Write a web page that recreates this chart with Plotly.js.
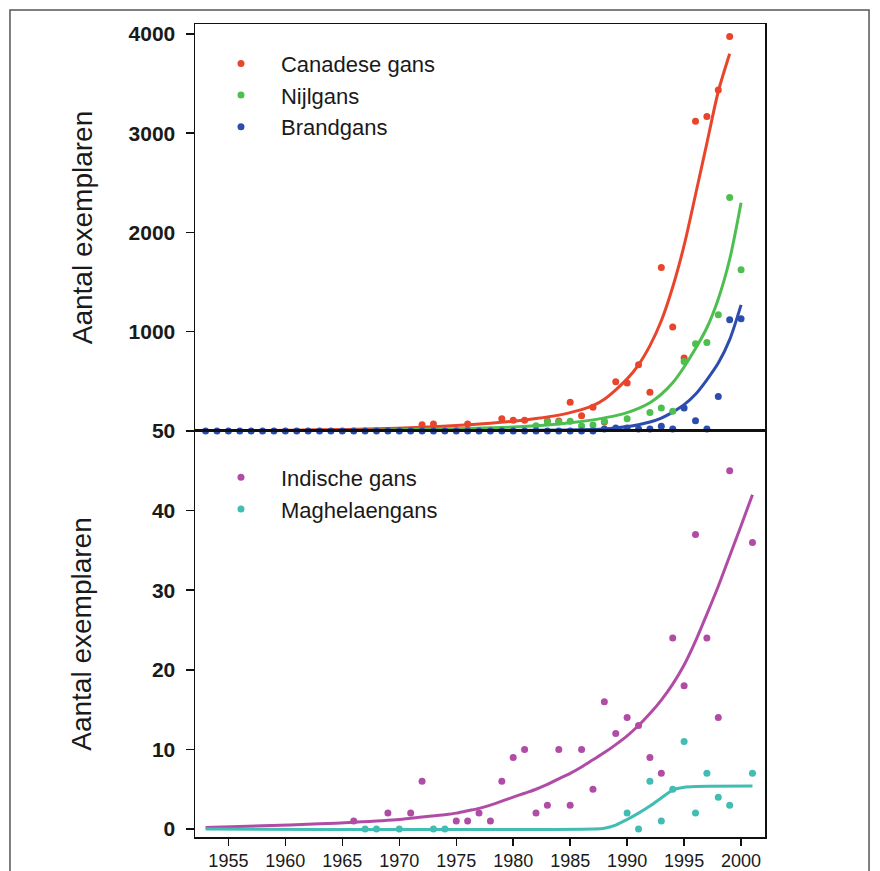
<!DOCTYPE html>
<html><head><meta charset="utf-8">
<script src="https://cdn.plot.ly/plotly-3.0.1.min.js"></script>
<style>html,body{margin:0;padding:0;background:#fff}#chart{width:880px;height:871px}</style>
</head><body><div id="chart"></div>
<script>
// ---------- Top panel: observed counts ----------
const canadeseYears  = [1972,1973,1976,1979,1980,1981,1983,1984,1985,1986,1987,1988,1989,1990,1991,1992,1993,1994,1995,1996,1997,1998,1999];
const canadeseCounts = [63,70,70,124,109,109,100,100,290,154,238,90,496,483,667,389,1647,1047,735,3121,3167,3436,3973];

const nijlYears  = [1982,1983,1984,1985,1986,1987,1988,1990,1992,1993,1994,1995,1996,1997,1998,1999,2000];
const nijlCounts = [53,90,90,97,50,60,97,124,187,231,200,700,879,892,1171,2352,1624];

const brandYears  = [1953,1954,1955,1956,1957,1958,1959,1960,1961,1962,1963,1964,1965,1966,1967,1968,1969,1970,1971,1972,1973,1974,1975,1976,1977,1978,1979,1980,1981,1982,1983,1984,1985,1986,1987,1988,1989,1990,1991,1992,1993,1994,1995,1996,1997,1998,1999,2000];
const brandCounts = [0,0,0,0,0,0,0,0,0,0,0,0,0,0,0,0,0,0,0,0,0,0,0,0,0,0,0,0,0,0,0,0,0,0,0,20,30,30,20,20,47,20,231,104,20,348,1120,1130];

// ---------- Top panel: fitted curves ----------
const canadeseFitYears = [1953,1958,1963,1968,1972,1975,1978,1980,1982,1984,1985,1986,1987,1988,1989,1990,1991,1992,1993,1994,1995,1996,1997,1998,1999];
const canadeseFit      = [3,6,12,22,38,55,78,98,125,160,185,215,255,320,415,525,667,860,1110,1450,1870,2380,2900,3420,3800];

const nijlFitYears = [1953,1960,1965,1970,1975,1980,1983,1985,1987,1988,1989,1990,1991,1992,1993,1994,1995,1996,1997,1998,1999,2000];
const nijlFit      = [1,3,6,12,22,40,60,82,112,132,155,185,228,285,370,485,645,830,1040,1330,1730,2300];

const brandFitYears = [1953,1965,1975,1980,1985,1987,1988,1989,1990,1991,1992,1993,1994,1995,1996,1997,1998,1999,2000];
const brandFit      = [0,1,3,5,10,15,20,30,45,63,90,130,190,265,370,516,684,920,1270];

// ---------- Bottom panel: observed counts ----------
const indischeYears  = [1966,1969,1971,1972,1975,1976,1977,1978,1979,1980,1981,1982,1983,1984,1985,1986,1987,1988,1989,1990,1991,1992,1993,1994,1995,1996,1997,1998,1999,2001];
const indischeCounts = [1,2,2,6,1,1,2,1,6,9,10,2,3,10,3,10,5,16,12,14,13,9,7,24,18,37,24,14,45,36];

const maghYears  = [1967,1968,1970,1973,1974,1990,1991,1992,1993,1994,1995,1996,1997,1998,1999,2001];
const maghCounts = [0,0,0,0,0,2,0,6,1,5,11,2,7,4,3,7];

// ---------- Bottom panel: fitted curves ----------
const indischeFitYears = [1953,1958,1963,1966,1970,1972,1974,1975,1976,1977,1978,1979,1980,1981,1982,1983,1984,1985,1986,1987,1988,1989,1990,1991,1992,1993,1994,1995,1996,1997,1998,1999,2000,2001];
const indischeFit      = [0.2,0.4,0.65,0.85,1.2,1.5,1.8,2.0,2.3,2.6,3.0,3.5,4.0,4.5,5.0,5.6,6.3,7.0,7.8,8.7,9.6,10.6,11.7,13.0,14.5,16.2,18.2,20.6,23.6,27.0,30.5,34.3,38.1,42.0];

const maghFitYears = [1953,1987,1988,1989,1990,1991,1992,1993,1994,1995,1996,2001];
const maghFit      = [0,0,0.1,0.5,1.2,2.0,2.9,3.9,4.9,5.25,5.35,5.4];

// ---------- Tick labels ----------
const topTicks = [1000,2000,3000,4000];
const bottomTicks = [0,10,20,30,40,50];
const yearTicks = [1955,1960,1965,1970,1975,1980,1985,1990,1995,2000];

// ---------- Styles ----------
const C = {red:'#E8452C', green:'#4CBF4F', blue:'#2C4DAE', purple:'#B04CA6', teal:'#41BDB4'};
const FONT = 'Liberation Sans, Arial, sans-serif';
const MS = 7, LW = 3;

function pts(x, y, name, color, ax, leg){
  return {type:'scatter', mode:'markers', x:x, y:y, name:name, xaxis:ax[0], yaxis:ax[1], legend:leg,
          cliponaxis:false, marker:{color:color, size:MS}, hoverinfo:'x+y'};
}
function fit(x, y, color, ax){
  return {type:'scatter', mode:'lines', x:x, y:y, xaxis:ax[0], yaxis:ax[1], showlegend:false,
          line:{color:color, width:LW, shape:'spline', smoothing:0.8}, hoverinfo:'skip'};
}
const TOP = ['x','y'], BOT = ['x2','y2'];

const data = [
  fit(canadeseFitYears, canadeseFit, C.red, TOP),
  fit(nijlFitYears, nijlFit, C.green, TOP),
  fit(brandFitYears, brandFit, C.blue, TOP),
  pts(canadeseYears, canadeseCounts, 'Canadese gans', C.red, TOP, 'legend'),
  pts(nijlYears, nijlCounts, 'Nijlgans', C.green, TOP, 'legend'),
  pts(brandYears, brandCounts, 'Brandgans', C.blue, TOP, 'legend'),
  fit(indischeFitYears, indischeFit, C.purple, BOT),
  fit(maghFitYears, maghFit, C.teal, BOT),
  pts(indischeYears, indischeCounts, 'Indische gans', C.purple, BOT, 'legend2'),
  pts(maghYears, maghCounts, 'Maghelaengans', C.teal, BOT, 'legend2')
];

const axLine = {showline:true, mirror:true, linecolor:'#111', linewidth:1.5, showgrid:false, zeroline:false};
const yTickFont = {family:FONT, size:21, color:'#1a1a1a', weight:700};
const titleFont = {family:FONT, size:28, color:'#1a1a1a'};
const legFont = {family:FONT, size:22, color:'#1a1a1a'};
const split = 0.4994;
const xr = [1952.07, 2002.1];

const layout = {
  width:880, height:871,
  margin:{l:195, r:115, t:24, b:34},
  paper_bgcolor:'#fff', plot_bgcolor:'#fff',
  font:{family:FONT, color:'#1a1a1a'},
  xaxis: Object.assign({}, axLine, {domain:[0,1], range:xr, anchor:'y', ticks:'', showticklabels:false}),
  yaxis: Object.assign({}, axLine, {domain:[split,1], range:[0,4100], anchor:'x', ticks:'outside', ticklen:8, tickwidth:1.5, tickcolor:'#111',
          tickvals:topTicks, tickfont:yTickFont, ticklabelstandoff:6,
          title:{text:'Aantal exemplaren', font:titleFont, standoff:28}}),
  xaxis2: Object.assign({}, axLine, {domain:[0,1], range:xr, anchor:'y2', ticks:'outside', ticklen:7, tickwidth:1.5, tickcolor:'#111',
          tickvals:yearTicks, ticklabelstandoff:0,
          tickfont:{family:'Liberation Sans Narrow, Arial Narrow, Liberation Sans, Arial, sans-serif', size:18, color:'#1a1a1a'}}),
  yaxis2: Object.assign({}, axLine, {domain:[0,split], range:[-1,50], anchor:'x2', ticks:'outside', ticklen:8, tickwidth:1.5, tickcolor:'#111',
          tickvals:bottomTicks, tickfont:yTickFont, ticklabelstandoff:6,
          title:{text:'Aantal exemplaren', font:titleFont, standoff:52}}),
  legend: {x:0.0105, y:0.977, xanchor:'left', yanchor:'top', itemwidth:70, bgcolor:'rgba(0,0,0,0)', font:legFont},
  legend2:{x:0.0105, y:0.468, xanchor:'left', yanchor:'top', itemwidth:70, bgcolor:'rgba(0,0,0,0)', font:legFont},
  shapes:[{type:'rect', xref:'paper', yref:'paper', x0:-0.3246, x1:1.1825, y0:-0.06, y1:1.0172, line:{color:'#555', width:1.5}, fillcolor:'rgba(0,0,0,0)'}]
};

Plotly.newPlot('chart', data, layout, {staticPlot:true, displayModeBar:false});
</script>
</body></html>
